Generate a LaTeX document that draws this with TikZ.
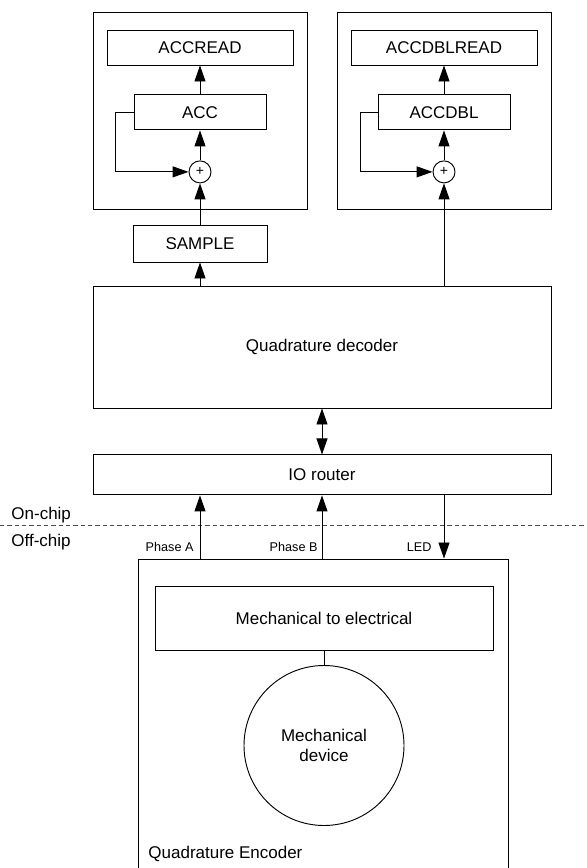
\documentclass[tikz,border=0pt]{standalone}
\usepackage{fontspec}
\setmainfont{Liberation Sans}
\usetikzlibrary{arrows.meta, positioning, calc}

\begin{document}
\begin{tikzpicture}[x=0.03cm, y=-0.03cm, line width=0.8pt,
    >={Triangle[length=0.48cm, width=0.33cm]},
    every node/.style={font=\fontsize{14.5}{17.4}\selectfont},
    blk/.style={draw, rectangle, inner sep=0pt, minimum height=1.05cm},
    grp/.style={draw, rectangle, minimum width=6.42cm, minimum height=5.91cm},
    sum/.style={draw, circle, fill=white, minimum size=0.66cm, inner sep=0pt, font=\fontsize{12}{14}\selectfont},
    sig/.style={anchor=base east, inner sep=0pt, font=\fontsize{10.8}{13}\selectfont}]
    \useasboundingbox (0,0) rectangle (586,868);
    \clip (0,0) rectangle (586,868);

    % accumulators
    \node[grp] (grpL) at (200,111.3) {};
    \node[grp] (grpR) at (444,111.3) {};
    \node[blk, minimum width=5.58cm] (accread) at (200,47.5) {ACCREAD};
    \node[blk, minimum width=3.96cm, below=0.87cm of accread] (acc) {ACC};
    \node[sum, below=0.9cm of acc] (sumL) {+};
    \node[blk, minimum width=5.58cm] (dblread) at (444,47.5) {ACCDBLREAD};
    \node[blk, minimum width=3.96cm, below=0.87cm of dblread] (accdbl) {ACCDBL};
    \node[sum, below=0.9cm of accdbl] (sumR) {+};
    \node[blk, minimum width=4.02cm, minimum height=1.11cm] (sample) at (200,243.5) {SAMPLE};

    % decoder and router
    \node[blk, minimum width=13.74cm, minimum height=3.66cm] (dec) at (322,347) {Quadrature decoder};
    \node[blk, minimum width=13.74cm, minimum height=1.2cm, below=1.38cm of dec] (router) {IO router};

    % chip boundary
    \draw[black!70, dash pattern=on 1.3mm off 0.9mm] (0,525.7) -- (586,525.7);
    \node[anchor=base west, inner sep=0pt] (onchip) at (11,519) {On-chip};
    \node[anchor=base west, inner sep=0pt] (offchip) at (11,546) {Off-chip};

    % encoder
    \node[draw, minimum width=11.1cm, minimum height=10.23cm] (enc) at (323,729.5) {};
    \node[blk, minimum width=10.14cm, minimum height=1.92cm] (mtoe) at (324,618) {Mechanical to electrical};
    \node[draw, circle, minimum size=4.8cm, inner sep=0pt, align=center] (mech) at (324,745.5) {Mechanical\\device};
    \node[anchor=base west, inner sep=0pt] (enclbl) at (148,858) {Quadrature Encoder};

    \node[sig] (phA) at (194,551) {Phase A};
    \node[sig] (phB) at (318,551) {Phase B};
    \node[sig] (led) at (432,551) {LED};

    \draw[->] (acc) -- (accread);
    \draw[->] (sumL) -- (acc);
    \draw[->] (acc.west) -- ++(-18,0) |- (sumL.west);
    \draw[->] (accdbl) -- (dblread);
    \draw[->] (sumR) -- (accdbl);
    \draw[->] (accdbl.west) -- ++(-17,0) |- (sumR.west);
    \draw[->] (sample) -- (sumL);
    \draw[->] (dec.north -| sample) -- (sample);
    \draw[->] (dec.north -| sumR) -- (sumR);
    \draw[<->] (dec) -- (router);
    \draw[->] (enc.north -| sample) -- (router.south -| sample);
    \draw[->] (enc.north -| router) -- (router.south);
    \draw[->] (router.south -| sumR) -- (enc.north -| sumR);
    \draw (mtoe) -- (mech);
\end{tikzpicture}
\end{document}
